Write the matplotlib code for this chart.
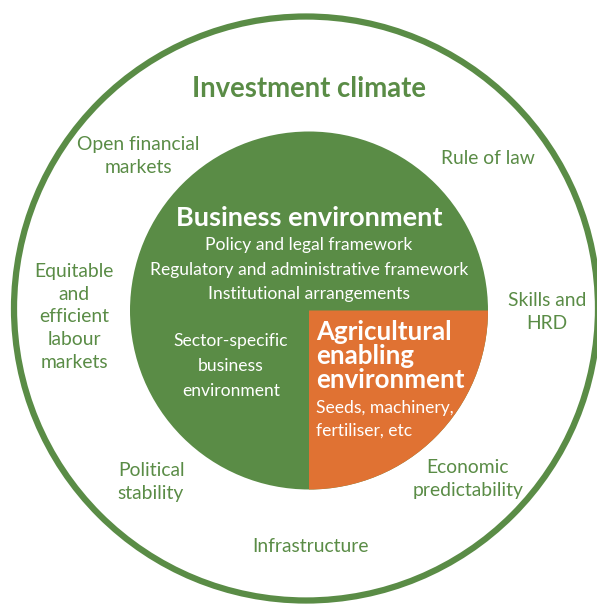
import matplotlib.pyplot as plt
from matplotlib.patches import Circle, Wedge

# colours
green = '#5a8c46'
orange = '#e07233'

# labels in the outer ring (investment climate factors)
outer_labels = ['Open financial\nmarkets', 'Rule of law', 'Equitable\nand\nefficient\nlabour\nmarkets',
                'Skills and\nHRD', 'Political\nstability', 'Economic\npredictability', 'Infrastructure']
outer_pos = [(138, 156), (488, 158), (74, 317), (547, 312), (151, 482), (468, 479), (310, 547)]

title = 'Investment climate'
business_title = 'Business environment'
business_items = ['Policy and legal framework',
                  'Regulatory and administrative framework',
                  'Institutional arrangements']
sector_label = 'Sector-specific\nbusiness\nenvironment'
agri_title = 'Agricultural\nenabling\nenvironment'
agri_items = 'Seeds, machinery,\nfertiliser, etc'

plt.rcParams['font.family'] = ['Lato', 'DejaVu Sans']

fig = plt.figure(figsize=(5.97, 6.04), dpi=100)
ax = fig.add_axes([0, 0, 1, 1])
ax.set_xlim(0, 597)
ax.set_ylim(604, 0)
ax.set_aspect('equal')
ax.axis('off')

# outer ring
ax.add_patch(Circle((306, 308.5), 292, facecolor='white', edgecolor=green, lw=4.5))
# inner circle + orange quadrant
ax.add_patch(Circle((309, 310.5), 179, facecolor=green, edgecolor='none'))
ax.add_patch(Wedge((309, 310.5), 179, 0, 90, facecolor=orange, edgecolor='none'))

ax.text(309, 89, title, color=green, fontsize=19.8, fontweight='bold', ha='center', va='center')

for lab, (x, y) in zip(outer_labels, outer_pos):
    ax.text(x, y, lab, color=green, fontsize=13.9, ha='center', va='center', linespacing=1.42)

ax.text(309, 218, business_title, color='white', fontsize=19.5, fontweight='bold', ha='center', va='center')
for i, item in enumerate(business_items):
    ax.text(309, 245 + i * 24.5, item, color='white', fontsize=12.6, ha='center', va='center')

ax.text(231, 366, sector_label, color='white', fontsize=12.6, ha='center', va='center', linespacing=1.68)
ax.text(316, 356, agri_title, color='white', fontsize=18.6, fontweight='bold', ha='left', va='center',
        linespacing=1.0)
ax.text(316, 419, agri_items, color='white', fontsize=12.6, ha='left', va='center', linespacing=1.52)

fig.savefig('out.png', dpi=100)
